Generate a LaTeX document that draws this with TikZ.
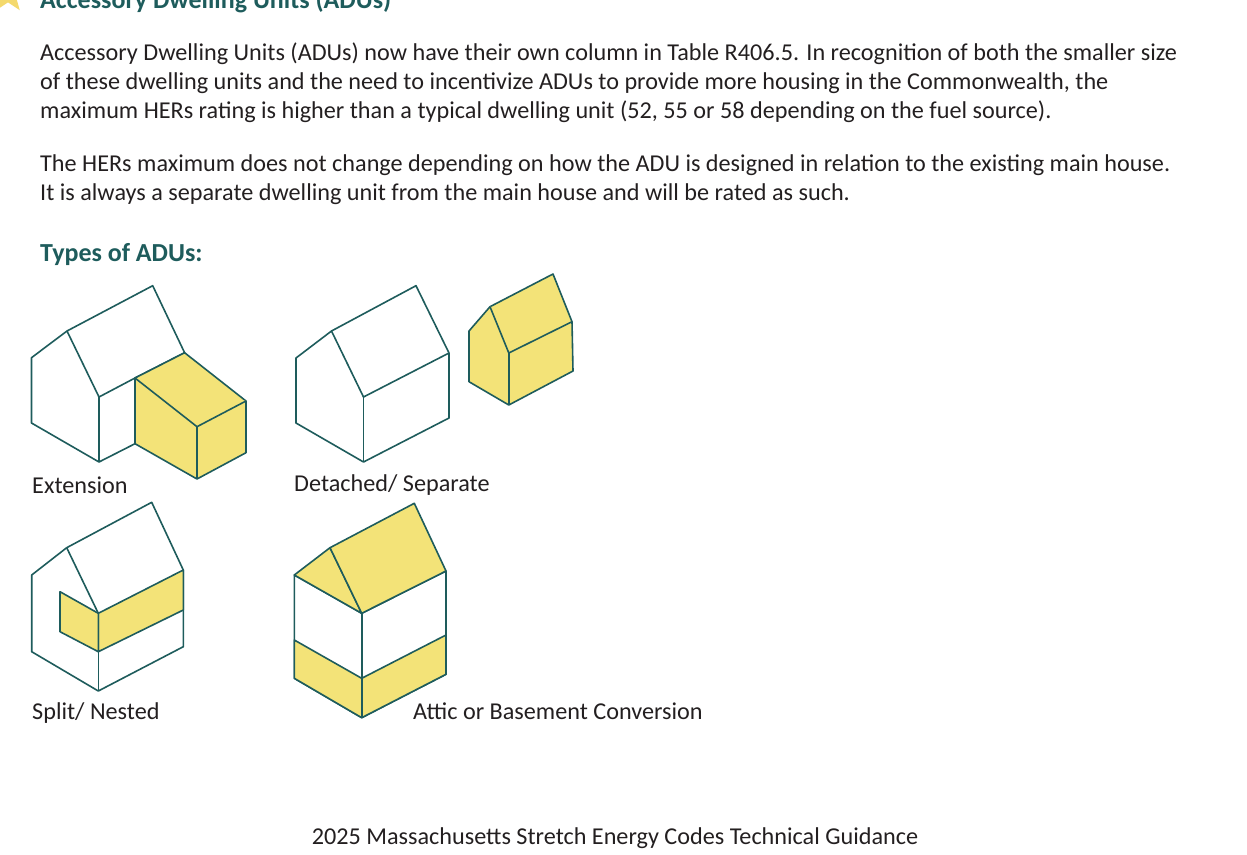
\documentclass[tikz,border=0pt]{standalone}
\usepackage{fontspec}
\setmainfont{Carlito}
\usetikzlibrary{shapes.geometric}
\definecolor{adutteal}{RGB}{30,92,92}
\definecolor{aduyellow}{RGB}{243,227,120}
\definecolor{adutext}{RGB}{35,31,32}
\tikzset{
  wall/.style={draw=adutteal, line width=1.6pt, line join=round, fill=white},
  adu/.style={draw=adutteal, line width=1.6pt, line join=round, fill=aduyellow},
  body/.style={anchor=base west, inner sep=0pt, text=adutext, font=\fontsize{24.2}{29}\selectfont},
  head/.style={anchor=base west, inner sep=0pt, text=adutteal, font=\fontsize{26}{29}\selectfont\bfseries},
}
\begin{document}
\begin{tikzpicture}[x=1pt,y=-1pt]
\useasboundingbox (0,0) rectangle (1247,854);

% heading
\node[star, star points=5, star point ratio=2.4, fill=aduyellow!90!orange, minimum size=40pt, inner sep=0pt] (star) at (8,-6) {};
\node[head] (title) at (40,8) {Accessory Dwelling Units (ADUs)};

% paragraphs
\node[body] (para1a) at (40,60) {Accessory Dwelling Units (ADUs) now have their own column in Table R406.5. In recognition of both the smaller size};
\node[body] (para1b) at (40,89) {of these dwelling units and the need to incentivize ADUs to provide more housing in the Commonwealth, the};
\node[body] (para1c) at (40,118) {maximum HERs rating is higher than a typical dwelling unit (52, 55 or 58 depending on the fuel source).};
\node[body] (para2a) at (40,171) {The HERs maximum does not change depending on how the ADU is designed in relation to the existing main house.};
\node[body] (para2b) at (40,200) {It is always a separate dwelling unit from the main house and will be rated as such.};
\node[head] (types) at (40,261) {Types of ADUs:};

% extension
\draw[wall] (31.5,357.7) -- (67,331) -- (152.7,285.7) -- (184.6,352.7) -- (135,378) -- (135,443.7) -- (99,462) -- (31.5,423) -- cycle;
\draw[wall] (67,331) -- (99,397) -- (99,462);
\draw[wall] (99,397) -- (135,378);
\draw[adu] (135,378) -- (184.6,352.7) -- (246,401) -- (246,452.7) -- (197,479) -- (135,443.7) -- cycle;
\draw[adu] (135,378) -- (197,426.7) -- (246,401);
\draw[adu] (197,426.7) -- (197,479);
\node[body] (extlbl) at (32,493) {Extension};

% detached / separate
\draw[wall] (296,358) -- (331.5,331) -- (416,285.7) -- (449,353) -- (449,418) -- (363.5,462) -- (296,423) -- cycle;
\draw[wall] (331.5,331) -- (363.5,397) -- (449,353);
\draw[wall] (363.5,397) -- (363.5,462);
\draw[adu] (469,331) -- (490,306.7) -- (553,274) -- (572,321.7) -- (573,371) -- (508.8,405) -- (469,381.7) -- cycle;
\draw[adu] (490,306.7) -- (508.8,353) -- (572,321.7);
\draw[adu] (508.8,353) -- (508.8,405);
\node[body] (detlbl) at (294,491) {Detached/ Separate};

% split / nested
\draw[wall] (31.7,575) -- (66.7,547.7) -- (151.7,502.3) -- (183.3,570) -- (183.3,646.7) -- (98.3,691) -- (31.7,651.7) -- cycle;
\draw[wall] (66.7,547.7) -- (98.3,613.3);
\draw[adu] (98.3,613.3) -- (183.3,570) -- (183.3,610) -- (98.3,651.7) -- cycle;
\draw[adu] (60,591.7) -- (98.3,613.3) -- (98.3,651.7) -- (60,631.7) -- cycle;
\draw[wall] (98.3,651.7) -- (98.3,691);
\node[body] (splitlbl) at (32,719) {Split/ Nested};

% attic or basement conversion
\draw[wall] (294.3,575) -- (361.7,613.3) -- (446,571) -- (446,674.3) -- (361.7,717.7) -- (294.3,678.3) -- cycle;
\draw[adu] (294.3,575) -- (330,547.7) -- (361.7,613.3) -- cycle;
\draw[adu] (330,547.7) -- (414.3,503.3) -- (446,571) -- (361.7,613.3) -- cycle;
\draw[adu] (294.3,640) -- (361.7,678.3) -- (446,635) -- (446,674.3) -- (361.7,717.7) -- (294.3,678.3) -- cycle;
\draw[wall] (361.7,613.3) -- (361.7,678.3);
\draw[adu] (361.7,678.3) -- (361.7,717.7);
\node[body] (atticlbl) at (413,719) {Attic or Basement Conversion};

% footer
\node[body, anchor=base] (footer) at (615,844) {2025 Massachusetts Stretch Energy Codes Technical Guidance};
\end{tikzpicture}
\end{document}
